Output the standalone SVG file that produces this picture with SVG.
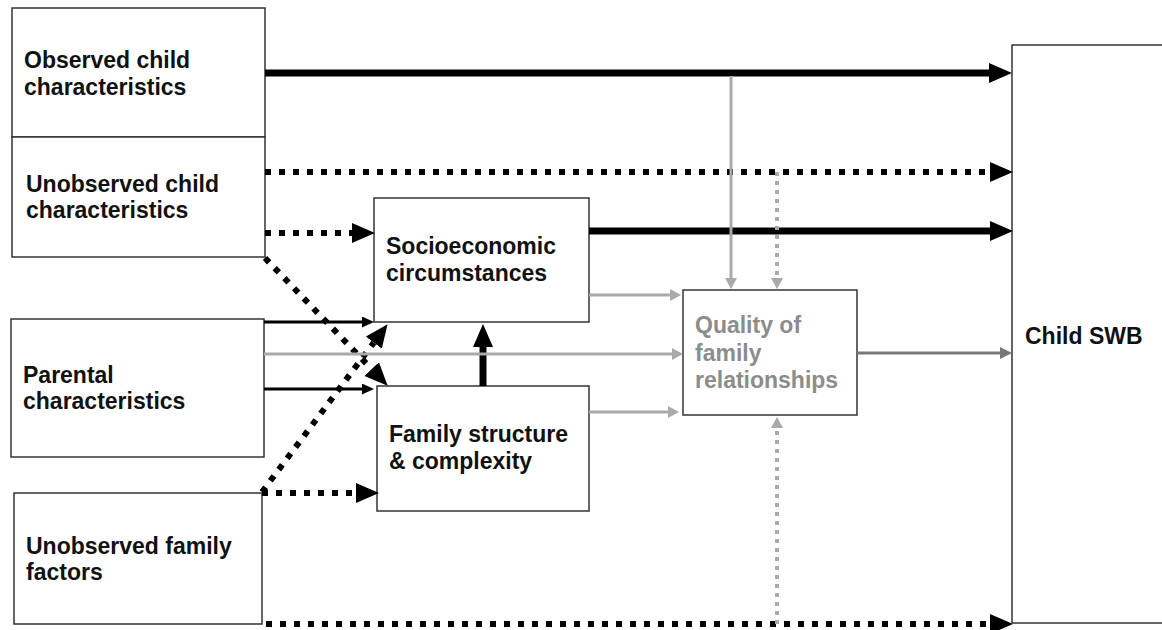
<svg xmlns="http://www.w3.org/2000/svg" width="1162" height="630" viewBox="0 0 1162 630">
  <style>
    .box { fill: #ffffff; stroke: #333333; stroke-width: 1.5; }
    .lbl { font-family: "Liberation Sans", Arial, sans-serif; font-weight: bold; font-size: 23px; fill: #111111; }
    .lbl-grey { fill: #8c8c8c; }
    .thick { stroke: #000000; stroke-width: 7; fill: none; }
    .thin { stroke: #000000; stroke-width: 3; fill: none; }
    .dots { stroke: #000000; stroke-width: 6; stroke-dasharray: 6 8; fill: none; }
    .grey { stroke: #aaaaaa; stroke-width: 3; fill: none; }
    .grey-dots { stroke: #aaaaaa; stroke-width: 4; stroke-dasharray: 4 5; fill: none; }
    .dark-grey { stroke: #7a7676; stroke-width: 3; fill: none; }
  </style>
  <defs>
    <marker id="head-big" markerUnits="userSpaceOnUse" viewBox="0 0 23 20" refX="0" refY="10" markerWidth="23" markerHeight="20" orient="auto">
      <path d="M0,0 L23,10 L0,20 Z" fill="#000000"/>
    </marker>
    <marker id="head-small" markerUnits="userSpaceOnUse" viewBox="0 0 12 11" refX="0" refY="5.5" markerWidth="12" markerHeight="11" orient="auto">
      <path d="M0,0 L12,5.5 L0,11 Z" fill="#000000"/>
    </marker>
    <marker id="head-grey" markerUnits="userSpaceOnUse" viewBox="0 0 11 12" refX="0" refY="6" markerWidth="11" markerHeight="12" orient="auto">
      <path d="M0,0 L11,6 L0,12 Z" fill="#aaaaaa"/>
    </marker>
    <marker id="head-dark" markerUnits="userSpaceOnUse" viewBox="0 0 12 12" refX="0" refY="6" markerWidth="12" markerHeight="12" orient="auto">
      <path d="M0,0 L12,6 L0,12 Z" fill="#7a7676"/>
    </marker>
  </defs>

  <!-- nodes -->
  <g id="observed-child">
    <rect class="box" x="12" y="8" width="253" height="129"/>
    <text class="lbl" x="24" y="68">Observed child</text>
    <text class="lbl" x="24" y="95">characteristics</text>
  </g>
  <g id="unobserved-child">
    <rect class="box" x="12" y="137" width="253" height="120"/>
    <text class="lbl" x="26" y="192">Unobserved child</text>
    <text class="lbl" x="26" y="218">characteristics</text>
  </g>
  <g id="parental">
    <rect class="box" x="11" y="319" width="253" height="138"/>
    <text class="lbl" x="23" y="383">Parental</text>
    <text class="lbl" x="23" y="409">characteristics</text>
  </g>
  <g id="unobserved-family">
    <rect class="box" x="14" y="493" width="248" height="131"/>
    <text class="lbl" x="26" y="554">Unobserved family</text>
    <text class="lbl" x="26" y="580">factors</text>
  </g>
  <g id="socioeconomic">
    <rect class="box" x="374" y="198" width="215" height="124"/>
    <text class="lbl" x="386" y="254">Socioeconomic</text>
    <text class="lbl" x="386" y="281">circumstances</text>
  </g>
  <g id="family-structure">
    <rect class="box" x="377" y="386" width="212" height="125"/>
    <text class="lbl" x="389" y="442">Family structure</text>
    <text class="lbl" x="389" y="469">&amp; complexity</text>
  </g>
  <g id="quality">
    <rect class="box" x="683" y="290" width="174" height="125"/>
    <text class="lbl lbl-grey" x="695" y="333">Quality of</text>
    <text class="lbl lbl-grey" x="695" y="361">family</text>
    <text class="lbl lbl-grey" x="695" y="388">relationships</text>
  </g>
  <g id="child-swb">
    <rect class="box" x="1012" y="45" width="170" height="578"/>
    <text class="lbl" x="1025" y="344">Child SWB</text>
  </g>

  <!-- connectors -->
  <g id="connectors">
    <!-- direct paths to child SWB -->
    <path class="thick" d="M265,73 H989" marker-end="url(#head-big)"/>
    <path class="dots" d="M265,172 H990" marker-end="url(#head-big)"/>
    <path class="thick" d="M589,231 H990" marker-end="url(#head-big)"/>
    <path class="dots" d="M266,624 H990" marker-end="url(#head-big)"/>

    <!-- into socioeconomic circumstances / family structure -->
    <path class="dots" d="M265,233 H352" marker-end="url(#head-big)"/>
    <path class="thin" d="M264,322 H362" marker-end="url(#head-small)"/>
    <path class="thin" d="M264,389 H362" marker-end="url(#head-small)"/>
    <path class="dots" d="M262,493 H356" marker-end="url(#head-big)"/>
    <path class="dots" d="M265,258 L371.7,369.1" marker-end="url(#head-big)"/>
    <path class="dots" d="M262,492 L373.8,342.6" marker-end="url(#head-big)"/>
    <path class="thick" d="M483,386 V347" marker-end="url(#head-big)"/>

    <!-- into quality of family relationships -->
    <path class="grey" d="M589,295 H670" marker-end="url(#head-grey)"/>
    <path class="grey" d="M264,354 H672" marker-end="url(#head-grey)"/>
    <path class="grey" d="M589,412 H668" marker-end="url(#head-grey)"/>
    <path class="grey" d="M731,76 V278" marker-end="url(#head-grey)"/>
    <path class="grey-dots" d="M777,172 V278" marker-end="url(#head-grey)"/>
    <path class="grey-dots" d="M777,624 V428" marker-end="url(#head-grey)"/>

    <!-- quality of family relationships to child SWB -->
    <path class="dark-grey" d="M857,353 H1000" marker-end="url(#head-dark)"/>
  </g>
</svg>
